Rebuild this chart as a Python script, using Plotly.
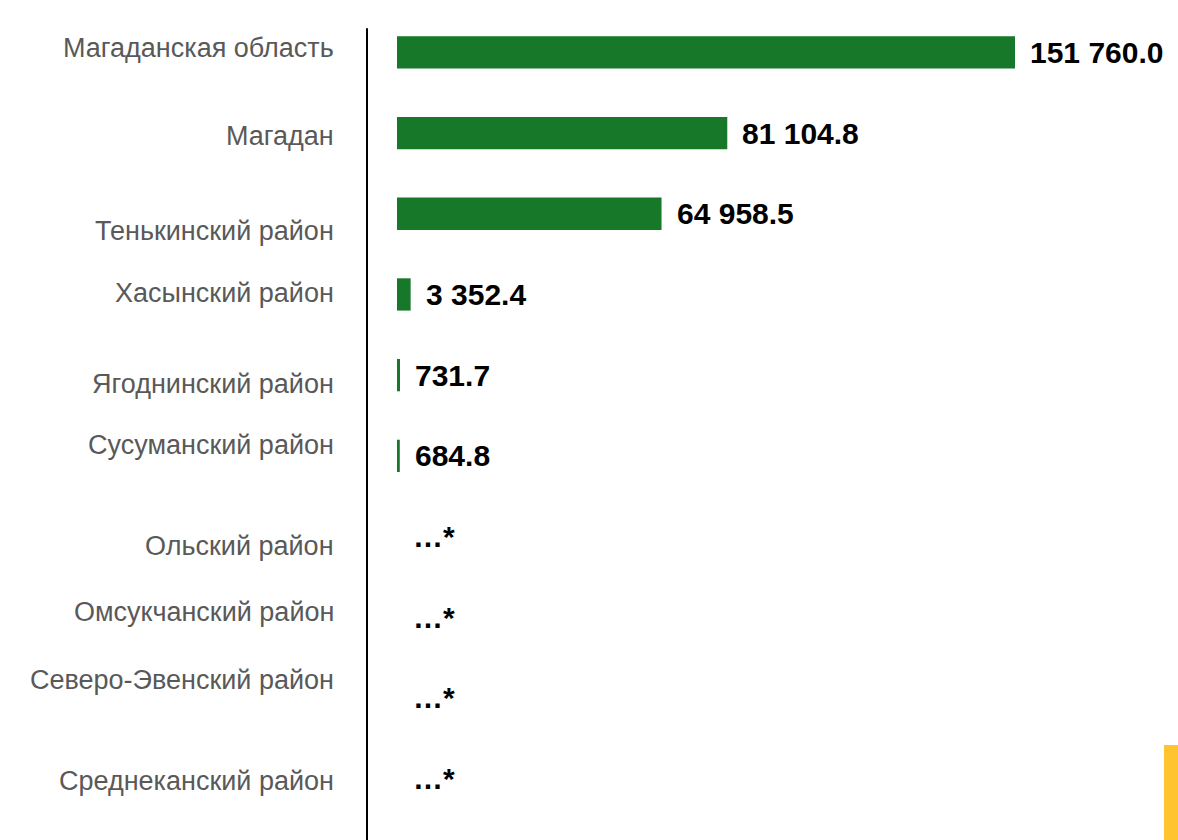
import plotly.graph_objects as go

categories = [
    "Магаданская область",
    "Магадан",
    "Тенькинский район",
    "Хасынский район",
    "Ягоднинский район",
    "Сусуманский район",
    "Ольский район",
    "Омсукчанский район",
    "Северо-Эвенский район",
    "Среднеканский район",
]
values = [151760.0, 81104.8, 64958.5, 3352.4, 731.7, 684.8, None, None, None, None]
missing_label = "…*"

# style: vertical pixel offsets of category labels (as in the reference layout)
label_shift = [4, -3, -17, 1, -9, 11, -9, 5, 18, -2]

GREEN = "#17782A"
FONT = "Liberation Sans, Arial, sans-serif"

fig = go.Figure()
fig.add_trace(go.Bar(
    y=categories,
    x=[v if v is not None else 0 for v in values],
    orientation="h",
    marker=dict(color=GREEN, line=dict(width=0)),
    hoverinfo="skip",
))

annotations = []
for cat, v, sh in zip(categories, values, label_shift):
    annotations.append(dict(
        xref="paper", x=0, y=cat, yref="y", xanchor="right", yanchor="middle",
        xshift=-31, yshift=sh, text=cat, showarrow=False,
        font=dict(family=FONT, size=27, color="#595959"),
    ))
    if v is not None:
        txt = f"{v:,.1f}".replace(",", " ")
        annotations.append(dict(
            x=v, y=cat, xref="x", yref="y", xanchor="left", yanchor="middle",
            xshift=13, text=f"<b>{txt}</b>", showarrow=False,
            font=dict(family=FONT, size=30, color="#000000"),
        ))
    else:
        annotations.append(dict(
            x=0, y=cat, xref="x", yref="y", xanchor="left", yanchor="middle",
            xshift=14, text=f"<b>{missing_label}</b>", showarrow=False,
            font=dict(family=FONT, size=30, color="#000000"),
        ))

shapes = [
    dict(type="line", xref="paper", yref="paper", x0=0, x1=0, y0=-0.03, y1=0.98,
         line=dict(color="#000000", width=2)),
    dict(type="rect", xref="paper", yref="paper", x0=0.9827, x1=1.0, y0=-0.03, y1=0.0917,
         fillcolor="#FFC42E", line=dict(width=0)),
]

fig.update_layout(
    width=1178, height=840,
    margin=dict(l=367, r=0, t=12, b=21),
    paper_bgcolor="white", plot_bgcolor="white",
    showlegend=False,
    bargap=0.6,
    xaxis=dict(range=[-7367, 191783], visible=False, fixedrange=True),
    yaxis=dict(categoryorder="array", categoryarray=categories,
               range=[len(categories) - 0.5, -0.5],
               showticklabels=False, showgrid=False, zeroline=False, showline=False,
               ticks=""),
    annotations=annotations,
    shapes=shapes,
)

fig.write_html(
    "out.html",
    config={"displayModeBar": False},
    post_script="document.body.style.margin='0';document.body.style.overflow='hidden';",
)
